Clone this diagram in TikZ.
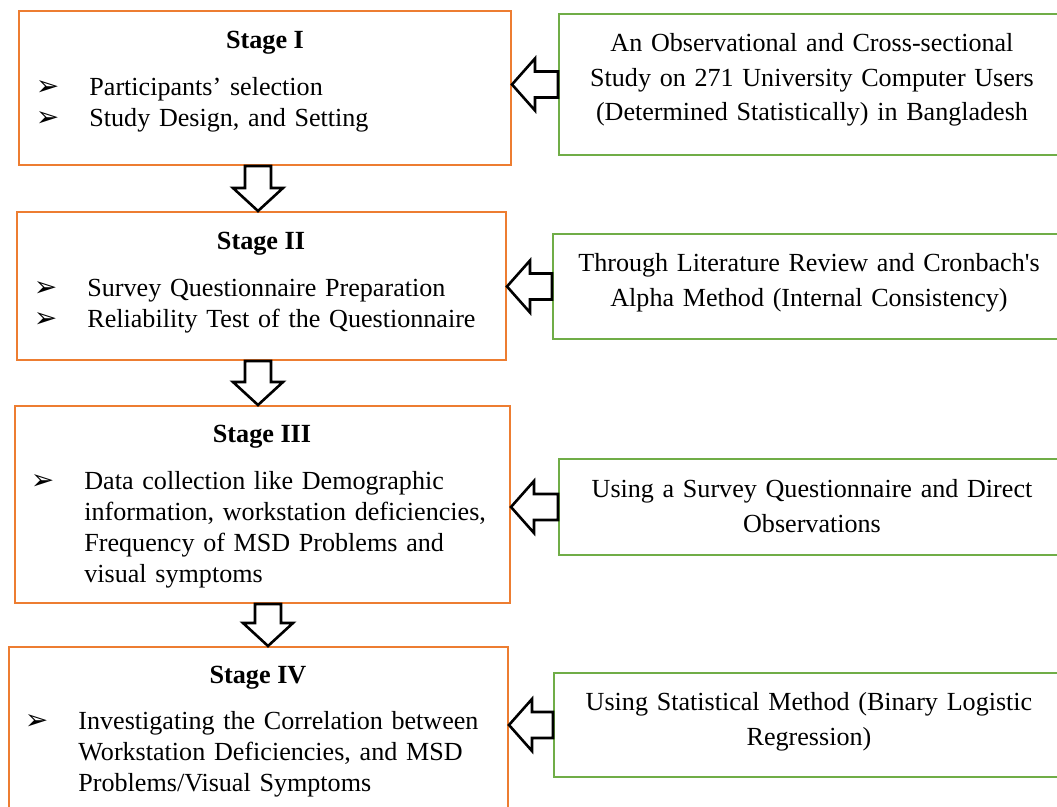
\documentclass[tikz,border=0pt]{standalone}
\usepackage{fontspec}
\setmainfont{Liberation Serif}
\newfontfamily\dingfont{DejaVu Sans}
\usetikzlibrary{positioning,calc}
\definecolor{stageorange}{HTML}{ED7D31}
\definecolor{methodgreen}{HTML}{70AD47}
\newcommand\bul{\leavevmode\llap{{\dingfont\fontsize{14pt}{14pt}\selectfont ➢}\hspace{15pt}}}
% hollow block arrows
\newcommand\downarr[2]{%
    \path[blockarr] ($(#1)+(-13,0)$) -- ($(#2)+(-13,-23)$) -- ($(#2)+(-25,-23)$) -- (#2)
        -- ($(#2)+(25,-23)$) -- ($(#2)+(13,-23)$) -- ($(#1)+(13,0)$) -- cycle;}
\newcommand\leftarr[2]{%
    \path[blockarr] ($(#1)+(0,-13)$) -- ($(#2)+(23,-13)$) -- ($(#2)+(23,-26)$) -- (#2)
        -- ($(#2)+(23,26)$) -- ($(#2)+(23,13)$) -- ($(#1)+(0,13)$) -- cycle;}
\tikzset{
    x=0.5pt,
    y=-0.5pt,
    stage/.style = {
        draw=stageorange,
        shape=rectangle,
        line width=1pt
    },
    method/.style = {
        draw=methodgreen,
        shape=rectangle,
        line width=1pt
    },
    head/.style = {
        anchor=base,
        inner sep=0pt,
        font=\fontsize{13.1pt}{15.5pt}\selectfont\bfseries
    },
    items/.style = {
        anchor=base west,
        inner sep=0pt,
        text width=230pt,
        align=left,
        font=\fontsize{13.05pt}{15.4pt}\selectfont
    },
    note/.style = {
        anchor=base,
        inner sep=0pt,
        text width=250pt,
        align=center,
        font=\fontsize{13.05pt}{17.25pt}\selectfont
    },
    blockarr/.style = {
        draw=black,
        fill=white,
        line width=1.3pt
    }
}
\begin{document}
\begin{tikzpicture}
    \useasboundingbox (0,0) rectangle (1057,807);

    \node[stage, minimum width=246pt, minimum height=77pt] (stagei) at (265,88) {};
    \node[stage, minimum width=244.5pt, minimum height=74pt] (stageii) at (261.5,286) {};
    \node[stage, minimum width=247.5pt, minimum height=98.5pt] (stageiii) at (262.5,504.5) {};
    \node[stage, minimum width=249.5pt, minimum height=84pt] (stageiv) at (258.5,731) {};

    \node[method, minimum width=253pt, minimum height=70.5pt] (obs) at (812,84.5) {};
    \node[method, minimum width=256pt, minimum height=52.5pt] (lit) at (809,286.5) {};
    \node[method, minimum width=253pt, minimum height=48pt] (surv) at (812,507) {};
    \node[method, minimum width=255.5pt, minimum height=52pt] (stat) at (809.5,725) {};

    \node[head] (headi) at (265,49) {Stage I};
    \node[items] (listi) at (89,96) {\bul Participants’ selection\\
        \bul Study Design, and Setting};
    \node[head] (headii) at (261,250) {Stage II};
    \node[items] (listii) at (87,297) {\bul Survey Questionnaire Preparation\\
        \bul Reliability Test of the Questionnaire};
    \node[head] (headiii) at (262,443) {Stage III};
    \node[items] (listiii) at (84,490) {\bul Data collection like Demographic\\
        information, workstation deficiencies,\\
        Frequency of MSD Problems and\\
        visual symptoms};
    \node[head] (headiv) at (258,684) {Stage IV};
    \node[items] (listiv) at (78,730) {\bul Investigating the Correlation between\\
        Workstation Deficiencies, and MSD\\
        Problems/Visual Symptoms};

    \node[note] (obstext) at (812,52) {An Observational and Cross-sectional\\
        Study on 271 University Computer Users\\
        (Determined Statistically) in Bangladesh};
    \node[note] (littext) at (809,272) {Through Literature Review and Cronbach\textquotesingle s\\
        Alpha Method (Internal Consistency)};
    \node[note] (survtext) at (812,498) {Using a Survey Questionnaire and Direct\\
        Observations};
    \node[note] (stattext) at (809,711) {Using Statistical Method (Binary Logistic\\
        Regression)};

    \downarr{258,0 |- stagei.south}{258,0 |- stageii.north}
    \downarr{258,0 |- stageii.south}{258,0 |- stageiii.north}
    \downarr{268,0 |- stageiii.south}{268,0 |- stageiv.north}

    \leftarr{obs.west}{obs.west -| stagei.east}
    \leftarr{lit.west}{lit.west -| stageii.east}
    \leftarr{surv.west}{surv.west -| stageiii.east}
    \leftarr{stat.west}{stat.west -| stageiv.east}
\end{tikzpicture}
\end{document}
